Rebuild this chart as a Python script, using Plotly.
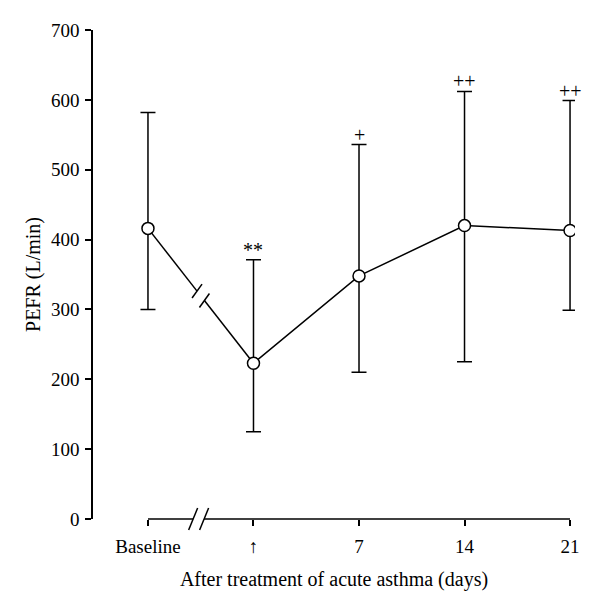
import plotly.graph_objects as go

# data
labels = ["Baseline", "\u2191", "7", "14", "21"]
pefr_mean = [416, 223, 348, 420, 413]
pefr_upper = [582, 371, 536, 612, 599]
pefr_lower = [300, 125, 210, 225, 299]
sig_marks = ["", "**", "+", "++", "++"]
y_ticks = [0, 100, 200, 300, 400, 500, 600, 700]

FONT = "Liberation Serif"
# page has an 8px body margin, so the figure is a bit smaller than the window
W, H = 592, 600
ML, MR, MT, MB = 85, 25, 20, 89
X_RANGE = [-0.521, 4.047]
Y_RANGE = [0, 700]
plot_w = W - ML - MR
plot_h = H - MT - MB

x_pos = list(range(len(labels)))


def px_x(v):
    # data x -> paper fraction
    return (v - X_RANGE[0]) / (X_RANGE[1] - X_RANGE[0])


def px_y(v):
    return (v - Y_RANGE[0]) / (Y_RANGE[1] - Y_RANGE[0])


fig = go.Figure()

# baseline -> first point, broken in the middle
mid_x = (x_pos[0] + x_pos[1]) / 2
gap = 0.035


def interp(x):
    t = (x - x_pos[0]) / (x_pos[1] - x_pos[0])
    return pefr_mean[0] + t * (pefr_mean[1] - pefr_mean[0])


fig.add_trace(go.Scatter(
    x=[x_pos[0], mid_x - gap, None, mid_x + gap, x_pos[1]],
    y=[pefr_mean[0], interp(mid_x - gap), None, interp(mid_x + gap), pefr_mean[1]],
    mode="lines", line=dict(color="black", width=1.5), showlegend=False,
    hoverinfo="skip"))

fig.add_trace(go.Scatter(
    x=x_pos[1:], y=pefr_mean[1:], mode="lines",
    line=dict(color="black", width=1.5), showlegend=False, hoverinfo="skip"))

fig.add_trace(go.Scatter(
    x=x_pos, y=pefr_mean, mode="markers",
    marker=dict(symbol="circle", size=12, color="white",
                line=dict(color="black", width=1.5)),
    error_y=dict(type="data", symmetric=False,
                 array=[u - m for u, m in zip(pefr_upper, pefr_mean)],
                 arrayminus=[m - l for m, l in zip(pefr_mean, pefr_lower)],
                 color="black", thickness=1.5, width=7.5),
    showlegend=False))

# significance marks above the caps
for xp, up, s in zip(x_pos, pefr_upper, sig_marks):
    if s:
        fig.add_annotation(x=xp, y=up, text=s, showarrow=False, yanchor="bottom",
                           yshift=-3, font=dict(family=FONT, size=20, color="black"))

shapes = []
# break marks on the data line (pixel offsets converted to paper)
for off in (-gap, gap):
    cx = px_x(mid_x + off)
    cy = px_y(interp(mid_x + off))
    shapes.append(dict(type="line", xref="paper", yref="paper",
                       x0=cx - 5 / plot_w, y0=cy - 7 / plot_h,
                       x1=cx + 5 / plot_w, y1=cy + 7 / plot_h,
                       line=dict(color="black", width=1.5)))

# x axis line with break
brk_c = 0.48
brk_g = 0.052
shapes.append(dict(type="line", xref="paper", yref="paper",
                   x0=px_x(x_pos[0]), y0=0, x1=px_x(brk_c - brk_g), y1=0,
                   line=dict(color="black", width=1.5)))
shapes.append(dict(type="line", xref="paper", yref="paper",
                   x0=px_x(brk_c + brk_g), y0=0, x1=px_x(x_pos[-1]), y1=0,
                   line=dict(color="black", width=1.5)))
for off in (-brk_g, brk_g):
    cx = px_x(brk_c + off)
    shapes.append(dict(type="line", xref="paper", yref="paper",
                       x0=cx - 4.5 / plot_w, y0=-11 / plot_h,
                       x1=cx + 4.5 / plot_w, y1=11 / plot_h,
                       line=dict(color="black", width=1.5)))

fig.update_layout(
    width=W, height=H,
    margin=dict(l=ML, r=MR, t=MT, b=MB),
    paper_bgcolor="white", plot_bgcolor="white",
    font=dict(family=FONT, size=19, color="black"),
    shapes=shapes,
    xaxis=dict(range=X_RANGE, tickvals=x_pos, ticktext=labels,
               showline=False, showgrid=False, zeroline=False,
               ticks="outside", ticklen=6, tickwidth=1.5, tickcolor="black",
               ticklabelstandoff=4,
               title=dict(text="After treatment of acute asthma (days)",
                          font=dict(size=20), standoff=16)),
    yaxis=dict(range=Y_RANGE, tickvals=y_ticks,
               showline=True, linecolor="black", linewidth=1.5,
               showgrid=False, zeroline=False,
               ticks="outside", ticklen=6, tickwidth=1.5, tickcolor="black",
               ticklabelstandoff=2,
               title=dict(text="PEFR (L/min)", font=dict(size=20), standoff=5)),
)

fig.write_html("out.html")
